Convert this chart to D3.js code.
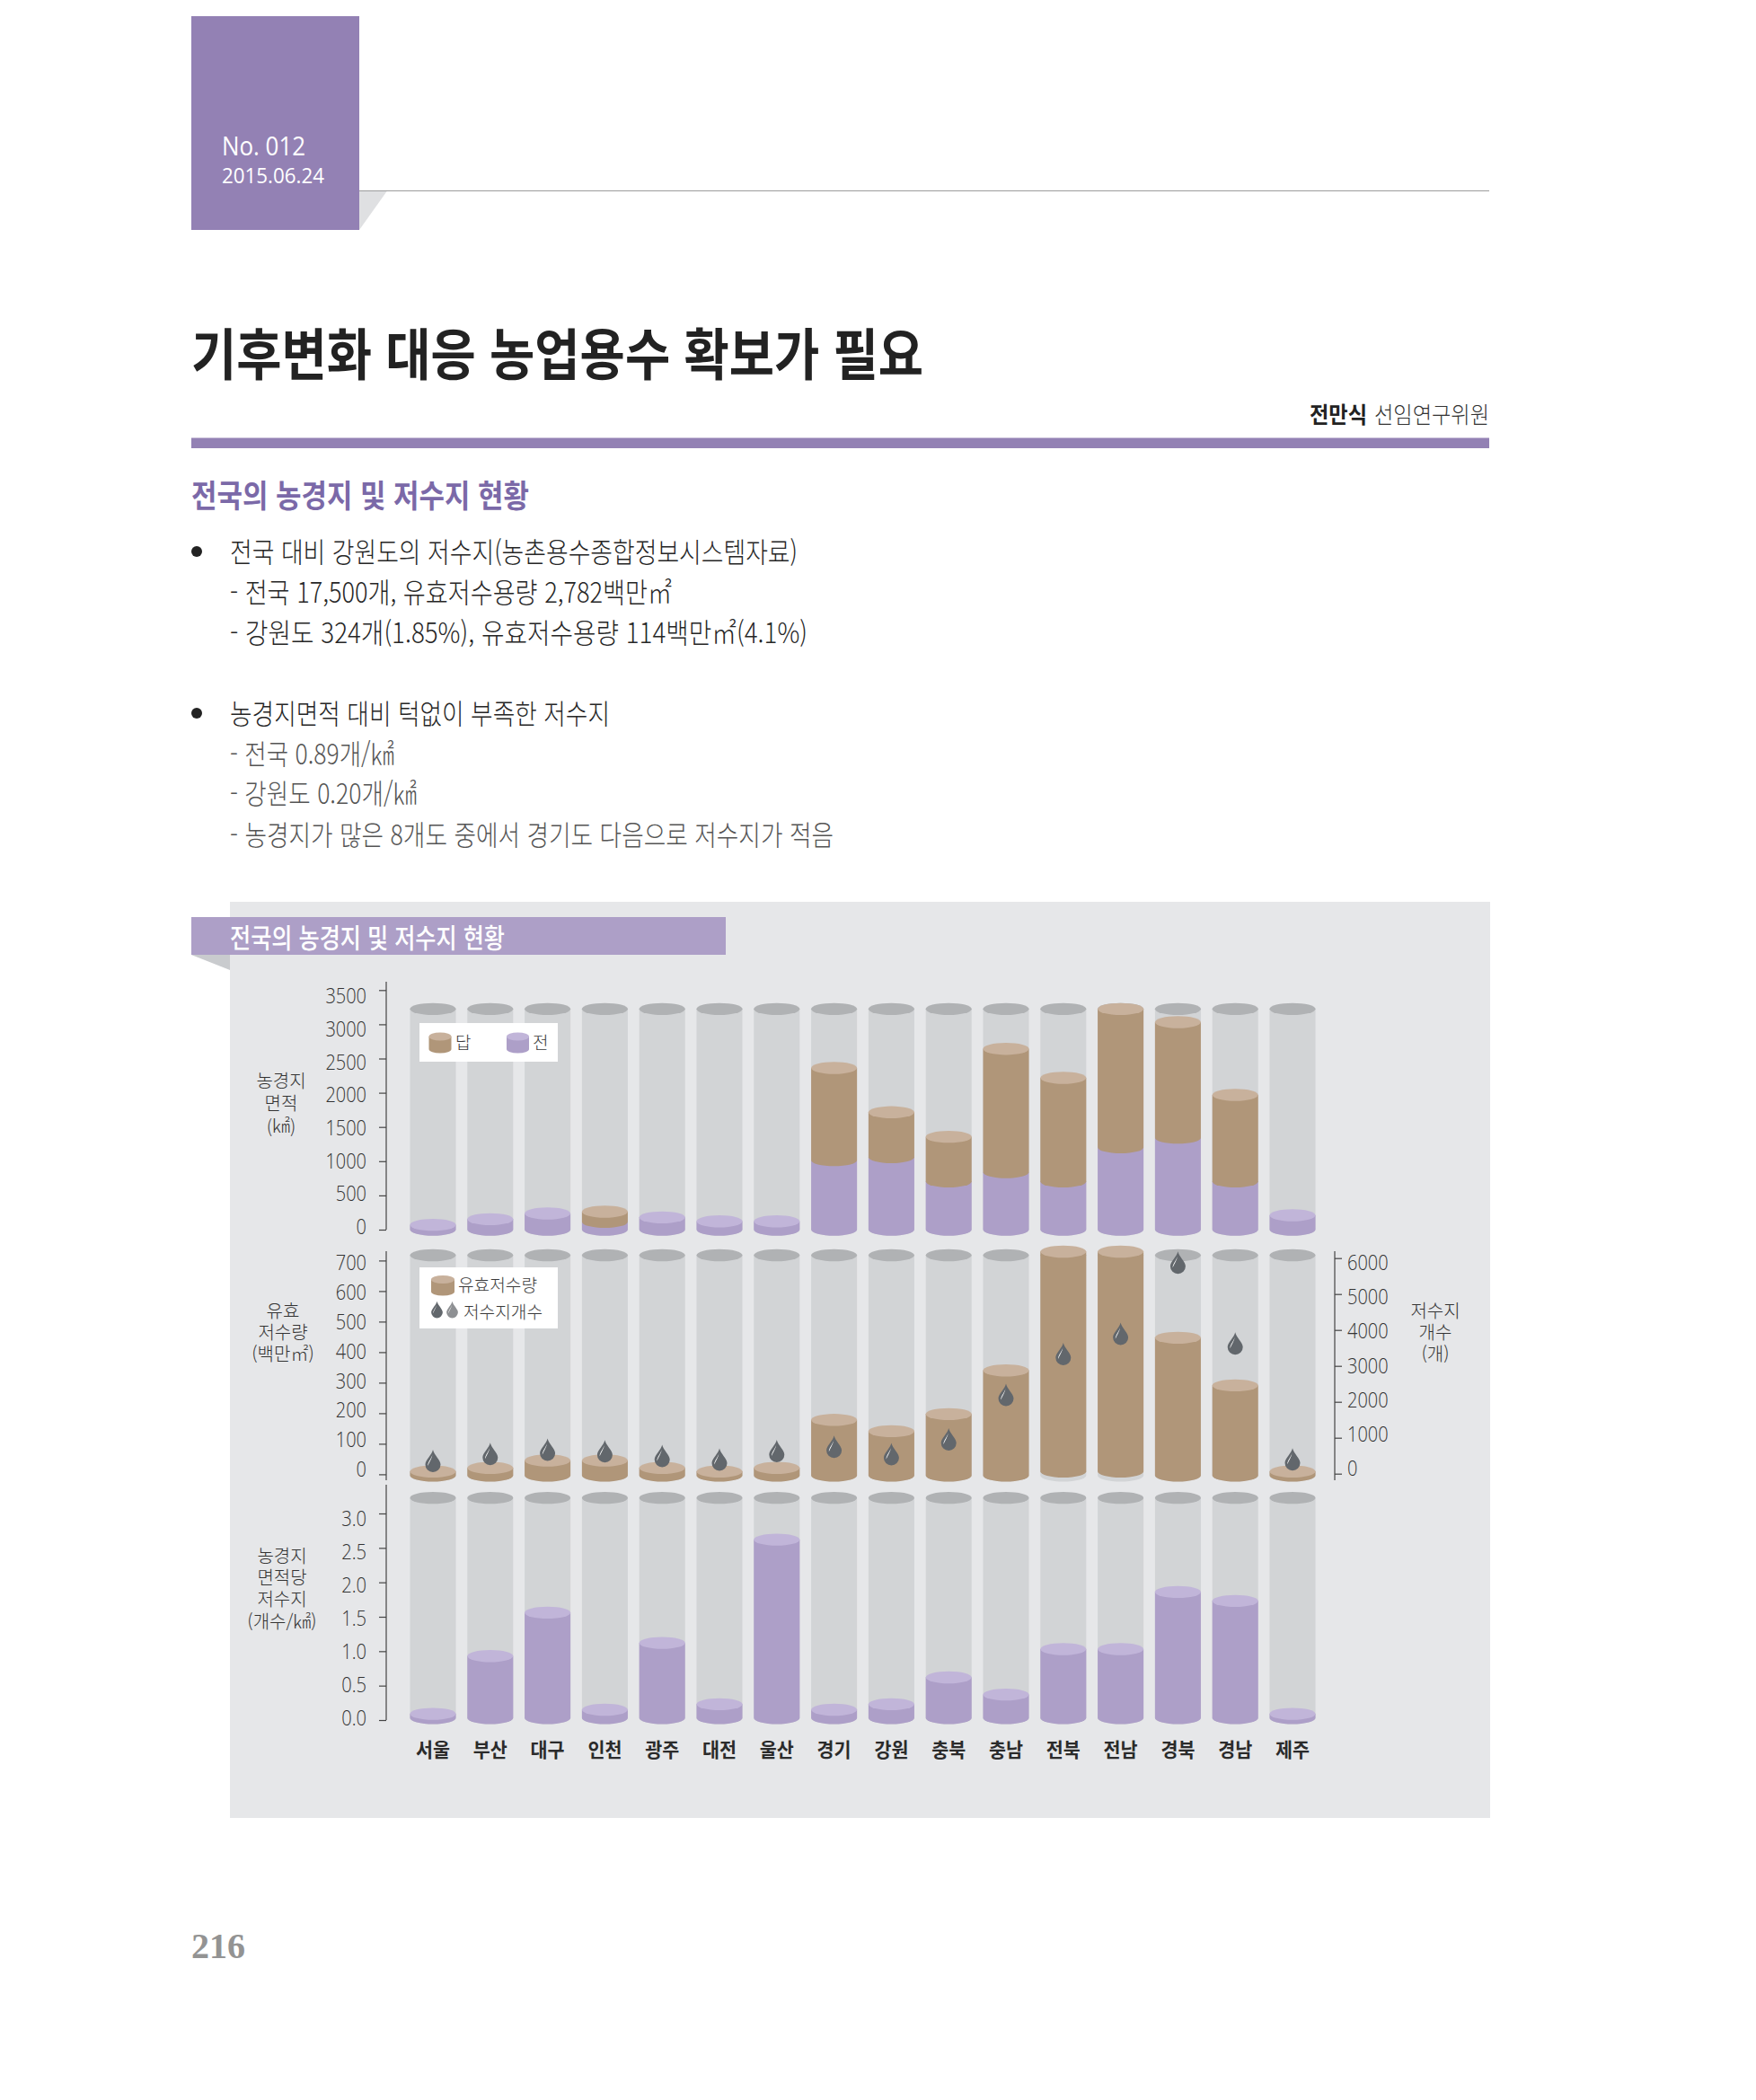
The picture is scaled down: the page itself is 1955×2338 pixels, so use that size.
<!DOCTYPE html>
<html lang="ko">
<head>
<meta charset="utf-8">
<title>기후변화 대응 농업용수 확보가 필요</title>
<script src="https://cdn.jsdelivr.net/npm/d3@7/dist/d3.min.js"></script>
<style>
  html, body { margin: 0; padding: 0; background: #fff; }
  svg { display: block; }
  text { font-family: "Noto Sans CJK KR", "Noto Sans", sans-serif; }
  .num { font-family: "Open Sans", "Noto Sans", sans-serif; font-weight: 300; }
</style>
</head>
<body>
<svg id="page" width="1955" height="2338"></svg>
<script>
// Regions along the horizontal axis
const regions = ["서울","부산","대구","인천","광주","대전","울산","경기","강원","충북","충남","전북","전남","경북","경남","제주"];

// Farmland area by region (km²): dry field and rice paddy
const fieldArea = [70,153,236,114,179,122,122,1015,1059,704,840,704,1203,1343,704,210];
const paddyArea = [0,0,0,148,0,0,0,1347,656,652,1802,1514,2021,1688,1264,0];

// Effective storage (million m²) and the level a few of the columns float from
const storage = [13,25,49,49,25,13,25,182,145,201,344,720,720,451,295,13];
const storageBase = [0,0,0,0,0,0,0,0,0,0,0,13,13,0,0,0];

// Number of reservoirs by region
const reservoirCount = [358,550,667,625,492,392,633,750,542,958,2192,3333,3892,5875,3625,400];

// Reservoirs per km² of farmland
const density = [0.06,0.90,1.53,0.12,1.09,0.20,2.59,0.12,0.20,0.59,0.34,1.00,1.00,1.83,1.70,0.06];

// Tick values for each axis
const areaTicks = [0,500,1000,1500,2000,2500,3000,3500];
const storageTicks = [0,100,200,300,400,500,600,700];
const countTicks = [0,1000,2000,3000,4000,5000,6000];
const densityTicks = [0,0.5,1,1.5,2,2.5,3];

// Article text
const bulletLines = [
  {t:"전국 대비 강원도의 저수지(농촌용수종합정보시스템자료)", y:615, w:632, c:"#262626"},
  {t:"- 전국 17,500개, 유효저수용량 2,782백만㎡", y:660, w:492, c:"#262626"},
  {t:"- 강원도 324개(1.85%), 유효저수용량 114백만㎡(4.1%)", y:705, w:643, c:"#262626"},
  {t:"농경지면적 대비 턱없이 부족한 저수지", y:795, w:423, c:"#262626"},
  {t:"- 전국 0.89개/㎢", y:840, w:183, c:"#555"},
  {t:"- 강원도 0.20개/㎢", y:884, w:208, c:"#555"},
  {t:"- 농경지가 많은 8개도 중에서 경기도 다음으로 저수지가 적음", y:930, w:672, c:"#555"}
];

const COLORS = {
  accent: "#9381b4", band: "#ad9fc7", panel: "#e6e7e9",
  tube: "#d2d4d6", tubeTop: "#b0b2b4",
  field: "#ad9fc8", fieldTop: "#c1b5d9",
  paddy: "#b09679", paddyTop: "#c8b19c",
  drop: "#62676c", dropAlt: "#8e9093", ink: "#3a3a3a"
};

const svg = d3.select("#page");

function label(parent, str, x, y, o = {}) {
  const el = parent.append("text")
    .attr("x", x).attr("y", y).attr("dy", "0.36em")
    .attr("font-size", o.size || 20)
    .attr("font-weight", o.weight || 300)
    .attr("fill", o.fill || COLORS.ink)
    .attr("text-anchor", o.anchor || "start")
    .text(str);
  if (o.width) el.attr("textLength", o.width).attr("lengthAdjust", "spacingAndGlyphs");
  if (o.cls) el.attr("class", o.cls);
  return el;
}

// ---- page furniture ----
svg.append("path").attr("d", "M400,212.5H431L400,256Z").attr("fill", "#dfe0e2");
svg.append("line").attr("x1", 400).attr("x2", 1658).attr("y1", 212.5).attr("y2", 212.5).attr("stroke", "#9c9c9c").attr("stroke-width", 1);
svg.append("rect").attr("x", 213).attr("y", 18).attr("width", 187).attr("height", 238).attr("fill", COLORS.accent);
label(svg, "No. 012", 247, 162, {size: 30, fill: "#fff", width: 93}).style("font-family", '"Open Sans", sans-serif').attr("font-weight", 400);
label(svg, "2015.06.24", 247, 196, {size: 23, fill: "#fff", width: 114}).style("font-family", '"Open Sans", sans-serif').attr("font-weight", 400);

label(svg, "기후변화 대응 농업용수 확보가 필요", 213, 396, {size: 62, weight: 700, fill: "#222", width: 815});
label(svg, "전만식", 1458, 462, {size: 25, weight: 700, fill: "#222", width: 64});
label(svg, "선임연구위원", 1530, 462, {size: 25, weight: 300, fill: "#333", width: 128});
svg.append("rect").attr("x", 213).attr("y", 487.5).attr("width", 1445).attr("height", 11.5).attr("fill", COLORS.accent);
label(svg, "전국의 농경지 및 저수지 현황", 213, 552, {size: 35, weight: 700, fill: "#7b69a8", width: 376});

[614, 794].forEach(y => svg.append("circle").attr("cx", 219).attr("cy", y).attr("r", 6).attr("fill", "#222"));
bulletLines.forEach(d => label(svg, d.t, 256, d.y, {size: 31, weight: 300, fill: d.c, width: d.w}));

label(svg, "216", 213, 2166, {size: 40, weight: 700, fill: "#939393", width: 60}).style("font-family", '"Liberation Serif", serif');

// ---- chart backdrop and title band ----
svg.append("rect").attr("x", 256).attr("y", 1004).attr("width", 1403).attr("height", 1020).attr("fill", COLORS.panel);
svg.append("path").attr("d", "M213,1063H256V1080Z").attr("fill", "#c9cbce");
svg.append("rect").attr("x", 213).attr("y", 1021).attr("width", 595).attr("height", 42).attr("fill", COLORS.band);
label(svg, "전국의 농경지 및 저수지 현황", 256, 1044, {size: 30, weight: 500, fill: "#fff", width: 306});

// ---- shared geometry ----
const x = d3.scaleBand().domain(regions).range([450.1, 1470.9]).paddingInner(0.2).paddingOuter(0.1);
const RX = x.bandwidth() / 2, RY = 6.7;
const AXIS_X = 430;

// A cylinder side between two levels, closed by a rounded bottom edge
function cylinderBody(cx, yTop, yBottom, rx = RX, ry = RY) {
  return `M${cx - rx},${yTop}L${cx - rx},${yBottom}A${rx},${ry} 0 0 0 ${cx + rx},${yBottom}L${cx + rx},${yTop}Z`;
}

function cylinder(g, cx, yTop, yBottom, side, top, rx = RX, ry = RY) {
  g.append("path").attr("d", cylinderBody(cx, yTop, yBottom, rx, ry)).attr("fill", side);
  if (top) g.append("ellipse").attr("cx", cx).attr("cy", yTop).attr("rx", rx).attr("ry", ry).attr("fill", top);
}

function drawTubes(g, y, tubeMax) {
  regions.forEach(r => cylinder(g, x(r) + RX, y(tubeMax), y(0), COLORS.tube, COLORS.tubeTop));
}

// Axis with condensed numeric labels placed on their own spacing
function drawAxis(g, axis, y, labelY, span, ax, fmt, padding, offset = 0) {
  const sel = g.append("g").attr("transform", `translate(${ax},${offset})`)
    .call(axis.tickSizeOuter(0).tickSize(8).tickPadding(padding).tickFormat(fmt));
  sel.select(".domain").remove();
  sel.selectAll(".tick line").attr("stroke", "#444").attr("stroke-width", 1.2);
  sel.selectAll(".tick text")
    .attr("class", "num")
    .attr("font-size", 24)
    .attr("fill", "#333")
    .attr("dy", "0.36em")
    .attr("y", d => labelY(d) - y(d) - offset)
    .attr("lengthAdjust", "spacingAndGlyphs")
    .attr("textLength", d => {
      const s = fmt(d);
      return s.replace(".", "").length * 11.4 + (s.includes(".") ? 5 : 0);
    });
  g.append("line").attr("x1", ax).attr("x2", ax).attr("y1", span[0]).attr("y2", span[1]).attr("stroke", "#444").attr("stroke-width", 1.2);
}

function stackedLabel(g, lines, cx, ys) {
  lines.forEach((t, i) => label(g, t, cx, ys[i], {size: 20, anchor: "middle", fill: "#333"}));
}

// ---- farmland area ----
const yArea = d3.scaleLinear().domain([0, 3500]).range([1369, 1102.3]);
const areaLabelY = d3.scaleLinear().domain([0, 3500]).range([1365, 1108]);
const area = svg.append("g");
drawTubes(area, yArea, 3224);
regions.forEach((r, i) => {
  const cx = x(r) + RX, total = fieldArea[i] + paddyArea[i];
  cylinder(area, cx, yArea(fieldArea[i]), yArea(0), COLORS.field, paddyArea[i] ? null : COLORS.fieldTop);
  if (paddyArea[i]) cylinder(area, cx, yArea(total), yArea(fieldArea[i]), COLORS.paddy, COLORS.paddyTop);
});
drawAxis(area, d3.axisLeft(yArea).tickValues(areaTicks), yArea, areaLabelY, [1093, 1369], AXIS_X, d3.format("d"), 14);
stackedLabel(area, ["농경지", "면적", "(㎢)"], 313, [1204, 1229, 1254]);

area.append("rect").attr("x", 467).attr("y", 1139).attr("width", 154).attr("height", 43).attr("fill", "#fff");
cylinder(area, 490, 1154, 1168, COLORS.paddy, COLORS.paddyTop, 12.5, 4.5);
label(area, "답", 507, 1161, {size: 19});
cylinder(area, 576.5, 1154, 1168, COLORS.field, COLORS.fieldTop, 12.5, 4.5);
label(area, "전", 593, 1161, {size: 19});

// ---- effective storage and reservoir counts ----
const yStorage = d3.scaleLinear().domain([0, 700]).range([1642.7, 1404.7]);
const storageLabelY = d3.scaleLinear().domain([0, 700]).range([1635, 1405]);
const yCount = d3.scaleLinear().domain([0, 6000]).range([1640.7, 1400.7]);
const countLabelY = d3.scaleLinear().domain([0, 6000]).range([1634, 1405]);
const mid = svg.append("g");
drawTubes(mid, yStorage, 721);
regions.forEach((r, i) => {
  const base = storageBase[i];
  cylinder(mid, x(r) + RX, yStorage(base + storage[i]), yStorage(base), COLORS.paddy, COLORS.paddyTop);
});
drawAxis(mid, d3.axisLeft(yStorage).tickValues(storageTicks), yStorage, storageLabelY, [1393, 1648], AXIS_X, d3.format("d"), 14, -1.3);
drawAxis(mid, d3.axisRight(yCount).tickValues(countTicks), yCount, countLabelY, [1393, 1648], 1486, d3.format("d"), 6);
stackedLabel(mid, ["유효", "저수량", "(백만㎡)"], 315, [1460, 1484, 1508]);
stackedLabel(mid, ["저수지", "개수", "(개)"], 1598, [1460, 1484, 1508]);

function drop(g, cx, cy, k = 1, fill = COLORS.drop) {
  const t = g.append("g").attr("transform", `translate(${cx},${cy}) scale(${k})`);
  t.append("path").attr("d", "M0,-12.5C1,-7 8.5,-1 8.5,4A8.5,8.5 0 0 1 -8.5,4C-8.5,-1 -1,-7 0,-12.5Z").attr("fill", fill);
  t.append("path").attr("d", "M-0.2,-8C-1.2,-3 -5.8,1 -5.8,5.5C-4.2,1.5 -1,-3 -0.2,-8Z").attr("fill", "#fff");
}
regions.forEach((r, i) => drop(mid, x(r) + RX, yCount(reservoirCount[i])));

mid.append("rect").attr("x", 467).attr("y", 1411).attr("width", 154).attr("height", 68).attr("fill", "#fff");
cylinder(mid, 493, 1424.5, 1438, COLORS.paddy, COLORS.paddyTop, 13, 4.5);
label(mid, "유효저수량", 510, 1431, {size: 19, width: 88});
drop(mid, 486.5, 1458, 0.75);
drop(mid, 503.5, 1458, 0.75, COLORS.dropAlt);
label(mid, "저수지개수", 516, 1461, {size: 19, width: 88});

// ---- reservoirs per km² ----
const yDensity = d3.scaleLinear().domain([0, 3]).range([1912.7, 1682.7]);
const densityLabelY = d3.scaleLinear().domain([0, 3]).range([1911.7, 1690]);
const low = svg.append("g");
drawTubes(low, yDensity, 3.196);
regions.forEach((r, i) => cylinder(low, x(r) + RX, yDensity(density[i]), yDensity(0), COLORS.field, COLORS.fieldTop));
drawAxis(low, d3.axisLeft(yDensity).tickValues(densityTicks), yDensity, densityLabelY, [1653, 1915], AXIS_X, d3.format(".1f"), 14, 2.3);
stackedLabel(low, ["농경지", "면적당", "저수지", "(개수/㎢)"], 314, [1733, 1757, 1781, 1806]);

regions.forEach(r => label(low, r, x(r) + RX, 1948, {size: 22, weight: 700, anchor: "middle", fill: "#2b2b2b", width: 38}));
</script>
</body>
</html>
